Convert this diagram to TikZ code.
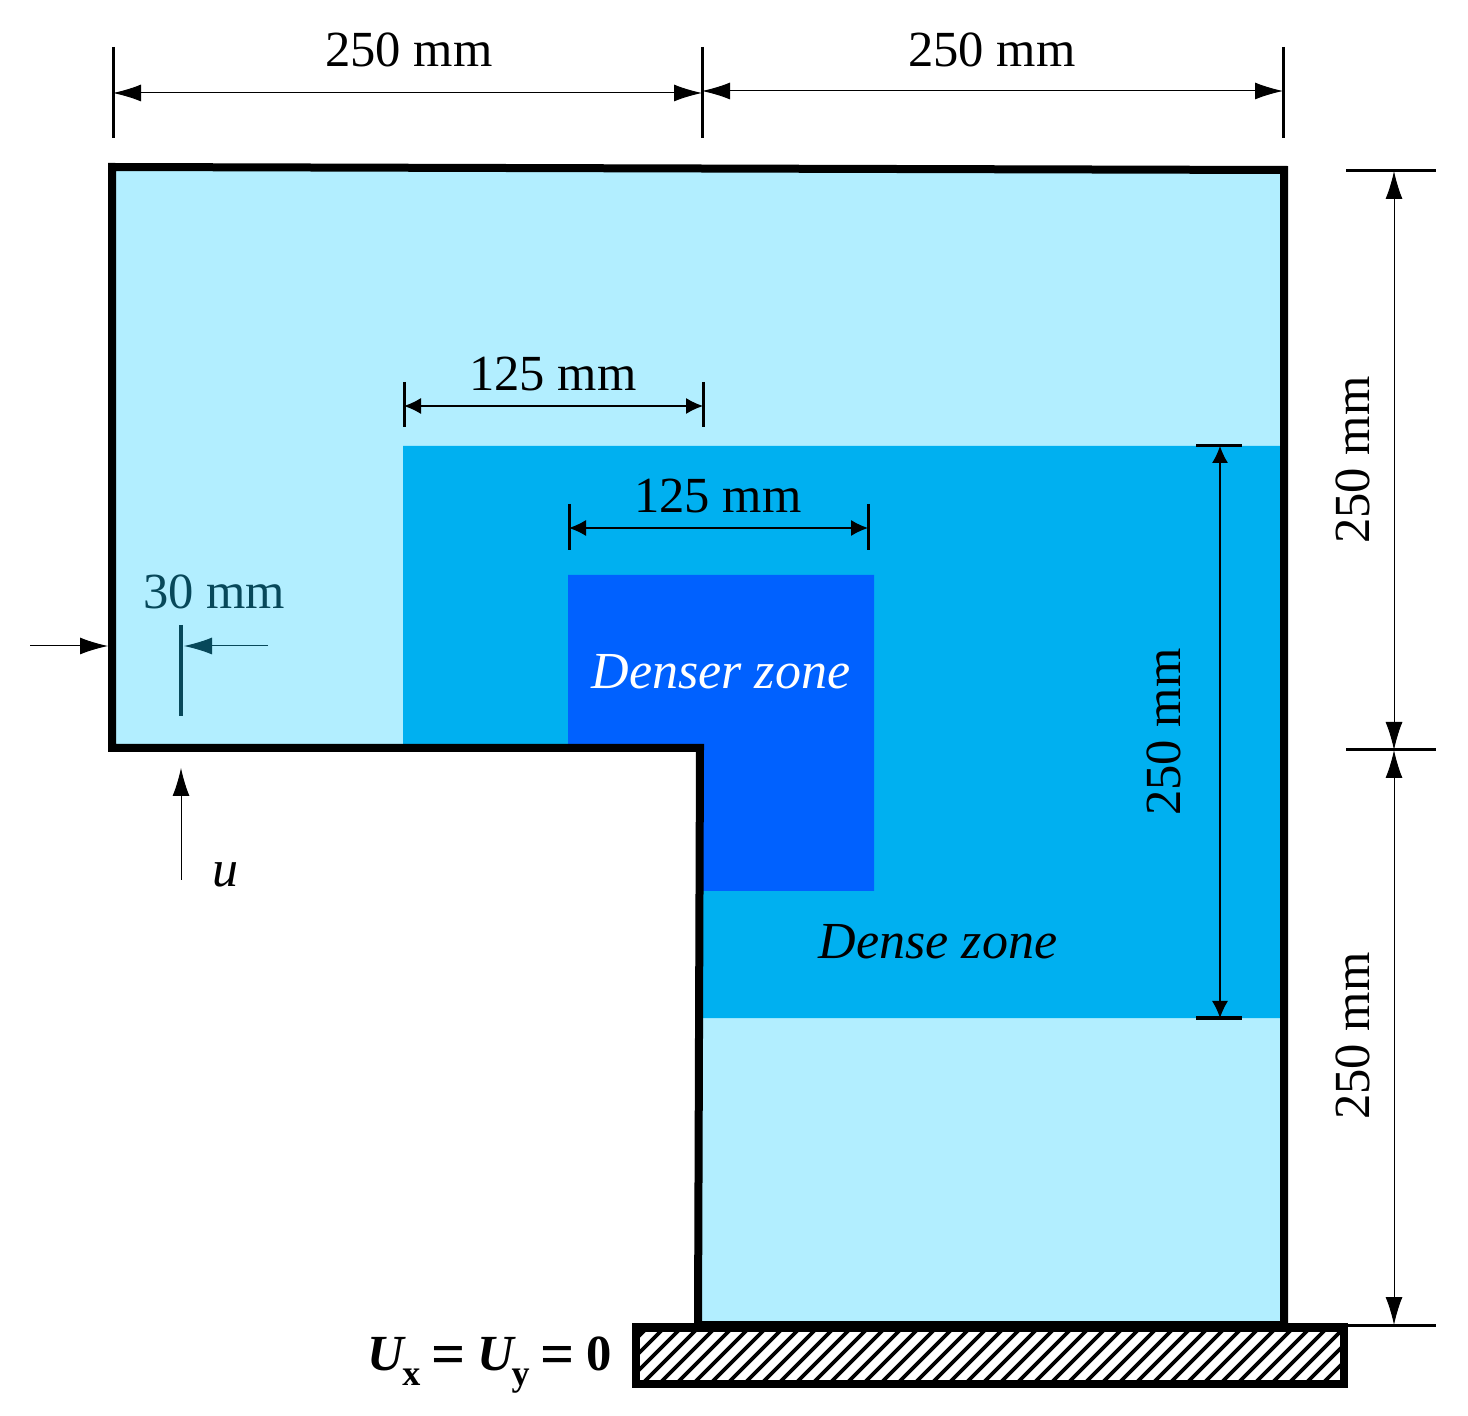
\documentclass[tikz,border=0pt]{standalone}
\usepackage{fontspec}
\setmainfont{Liberation Serif}
\usetikzlibrary{arrows.meta}
\definecolor{lightzone}{HTML}{B2EEFF}
\definecolor{densezone}{HTML}{00B0F0}
\definecolor{denserzone}{HTML}{0061FF}
\definecolor{tealdim}{HTML}{07485A}
\tikzstyle{arrow} = [line width=0.5pt,{Latex[length=14pt,width=8.5pt]}-{Latex[length=14pt,width=8.5pt]}]
\tikzstyle{shortarrow} = [line width=0.6pt,{Latex[length=8.5pt,width=8pt]}-{Latex[length=8.5pt,width=8pt]}]
\tikzstyle{onearrow} = [line width=0.5pt,-{Latex[length=14pt,width=8.5pt]}]
\tikzstyle{tick} = [line width=1.5pt]
\tikzstyle{wall} = [line width=4pt,miter limit=10]
\tikzstyle{dimlabel} = [font=\fontsize{25.3}{25.3}\selectfont,inner sep=0pt]
\tikzstyle{zonelabel} = [font=\fontsize{26}{26}\selectfont\itshape,inner sep=0pt]

\begin{document}
\begin{tikzpicture}[x=0.5pt,y=-0.5pt]
        \useasboundingbox (0,0) rectangle (1468,1416);

        % zones
        \fill [lightzone] (112,167) -- (1284,170) -- (1284,1325) -- (698,1325) -- (700,748) -- (112,748) -- cycle;
        \fill [densezone] (403,446) -- (1280,446) -- (1280,1018) -- (702,1018) -- (702,750) -- (403,748) -- cycle;
        \fill [denserzone] (568,575) -- (874,575) -- (874,891) -- (702,891) -- (702,750) -- (568,748) -- cycle;

        % outline and base
        \draw [wall] (112,167) -- (1284,170) -- (1284,1325) -- (698,1325) -- (700,748) -- (112,748) -- cycle;
        \begin{scope}
        \clip (636,1328) rectangle (1344,1384);
        \foreach \x in {590,607,...,1350}
            \draw [line width=1.8pt] (\x,1385) -- (\x+57,1328);
        \end{scope}
        \draw [line width=4.25pt,fill=none] (636,1327.5) rectangle (1344,1384);

        % top dimensions
        \coordinate (topa) at (113,93);
        \coordinate (topb) at (702,93);
        \coordinate (topc) at (702,91);
        \coordinate (topd) at (1283,91);
        \draw [tick] (113,47) -- (113,138);
        \draw [tick] (702,47) -- (702,138);
        \draw [tick] (1283,47) -- (1283,138);
        \draw [arrow] (topa) -- (topb);
        \draw [arrow] (topc) -- (topd);
        \node (widthleft) [dimlabel] at (409,50) {250 mm};
        \node (widthright) [dimlabel] at (992,50) {250 mm};

        % inner widths
        \coordinate (densea) at (404,406);
        \coordinate (denseb) at (703,406);
        \draw [tick] (404,382) -- (404,427);
        \draw [tick] (703,382) -- (703,427);
        \draw [shortarrow] (densea) -- (denseb);
        \node (densewidth) [dimlabel] at (553,374) {125 mm};
        \coordinate (densera) at (569,528);
        \coordinate (denserb) at (868,528);
        \draw [tick] (569,504) -- (569,550);
        \draw [tick] (868,504) -- (868,550);
        \draw [shortarrow] (densera) -- (denserb);
        \node (denserwidth) [dimlabel] at (718,496) {125 mm};

        % right dimensions
        \coordinate (righta) at (1394,171);
        \coordinate (rightb) at (1394,750);
        \coordinate (rightc) at (1394,1325);
        \draw [tick] (1346,171) -- (1436,171);
        \draw [tick] (1346,750) -- (1436,750);
        \draw [tick] (1284,1325) -- (1436,1325);
        \draw [arrow] (righta) -- (rightb);
        \draw [arrow] (rightb) -- (rightc);
        \node (heightup) [dimlabel,rotate=90] at (1353,460) {250 mm};
        \node (heightlow) [dimlabel,rotate=90] at (1353,1036) {250 mm};

        % dense zone height
        \coordinate (heighta) at (1220,446);
        \coordinate (heightb) at (1220,1018);
        \draw [tick] (1196,446) -- (1242,446);
        \draw [tick] (1196,1018) -- (1242,1018);
        \draw [shortarrow] (heighta) -- (heightb);
        \node (denseheight) [dimlabel,rotate=90] at (1164,732) {250 mm};

        % thickness and displacement
        \coordinate (thina) at (30,646);
        \coordinate (thinb) at (108,646);
        \coordinate (thinc) at (268,646);
        \coordinate (thind) at (184,646);
        \coordinate (loada) at (181,880);
        \coordinate (loadb) at (181,768);
        \draw [onearrow] (thina) -- (thinb);
        \draw [onearrow,tealdim] (thinc) -- (thind);
        \draw [line width=2pt,tealdim] (181,625) -- (181,716);
        \draw [onearrow] (loada) -- (loadb);
        \node (thickness) [dimlabel,text=tealdim] at (214,592) {30 mm};
        \node (load) [zonelabel] at (225,875) {u};

        % zone names
        \node (denser) [zonelabel,text=white] at (721,672) {Denser zone};
        \node (dense) [zonelabel] at (938,942) {Dense zone};

        % support
        \node (support) [dimlabel,font=\fontsize{25.3}{25.3}\selectfont\bfseries] at (490,1365) {\textit{U}\kern-0.08em\raisebox{-0.28em}{\fontsize{18}{18}\selectfont x}\kern0.22em\raisebox{-0.08em}{\fontsize{30}{30}\selectfont =}\kern0.24em\textit{U}\kern-0.1em\raisebox{-0.28em}{\fontsize{18}{18}\selectfont y}\kern0.22em\raisebox{-0.08em}{\fontsize{30}{30}\selectfont =}\kern0.24em 0};

        \end{tikzpicture}
\end{document}
